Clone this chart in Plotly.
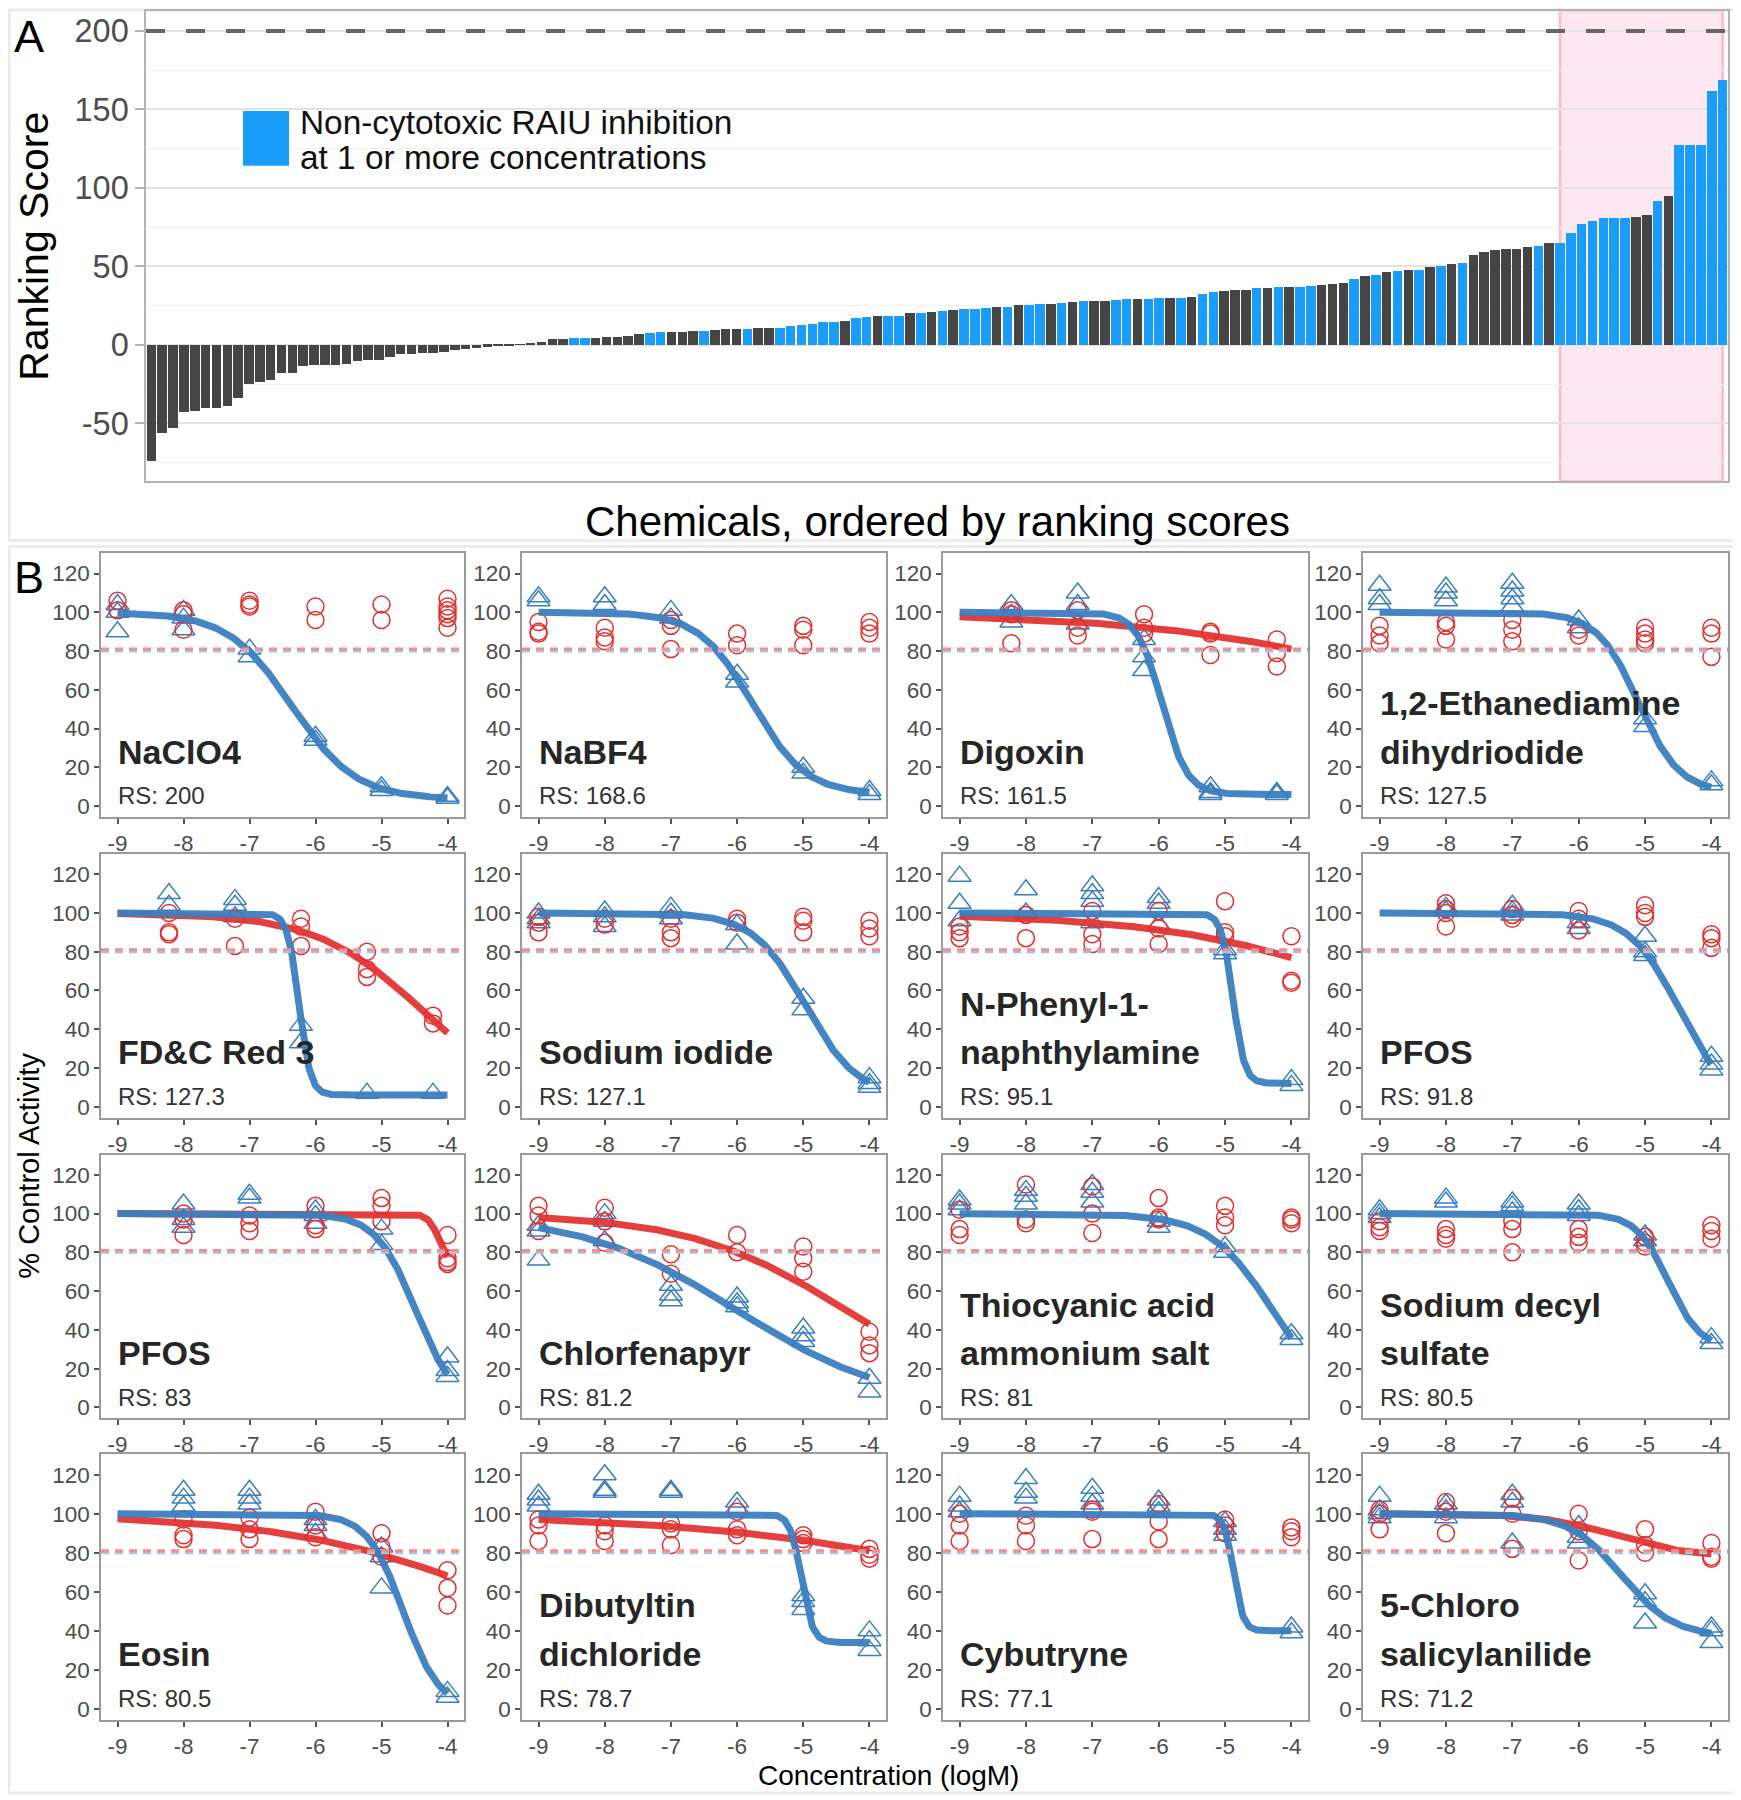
import numpy as np
import plotly.graph_objects as go

# page body adds an 8px margin: figure sized so that it fits exactly in the window
OFF = 8
W, H = 1741 - OFF, 1800 - OFF

# ---------------- Panel A data ----------------
chem_rank = list(range(1, 147))
bar_scores = [
    -74, -56, -53, -43, -42, -40.5, -40.5, -39, -34, -25,
    -24, -22.6, -18, -18, -13.4, -13, -13, -13, -12, -10.3,
    -10, -10, -7.5, -6, -6, -5, -5, -4.5, -3.2, -2.8,
    -2, -1.1, -0.6, -0.2, 0.3, 1, 1.5, 3.6, 3.6, 4.2,
    4.2, 4.2, 4.7, 5.1, 5.9, 7.0, 7.4, 7.9, 8.1, 8.1,
    9.1, 9.1, 9.6, 10.0, 10.0, 10.0, 10.4, 10.4, 11.0, 11.7,
    12.3, 13.2, 14.4, 14.4, 15.3, 16.8, 18.0, 18.5, 18.5, 18.5,
    20.2, 20.2, 20.6, 21.3, 22.4, 22.5, 22.5, 23.6, 24.0, 24.0,
    25.1, 25.1, 25.9, 26.3, 26.8, 27.2, 27.6, 27.6, 28.2, 28.7,
    29.3, 29.3, 29.3, 29.7, 29.9, 29.9, 30.6, 32.1, 33.8, 34.0,
    34.6, 34.6, 35.9, 36.3, 36.7, 36.7, 36.7, 37.4, 38.2, 38.8,
    39.3, 41.8, 44.1, 44.7, 46.2, 46.8, 47.9, 47.9, 49.8, 50.2,
    51.7, 51.9, 57.2, 59.1, 60.2, 60.8, 60.8, 62.1, 62.9, 64.6,
    64.6, 71.2, 77.1, 78.7, 80.5, 80.5, 81.0, 81.2, 83.0, 91.8,
    95.1, 127.1, 127.3, 127.5, 161.5, 168.6]
noncytotoxic_ranks = [40, 41, 47, 48, 52, 56, 59, 60, 61, 62, 63, 64, 66, 67, 69, 70,
                      72, 74, 76, 77, 78, 80, 82, 83, 85, 87, 90, 91, 93, 94, 96, 98,
                      99, 103, 105, 107, 108, 112, 114, 116, 118, 120, 122, 129, 131,
                      132, 133, 134, 135, 136, 137, 140, 142, 143, 144, 145, 146]
highlight_ranks = [131, 146]
reference_score = 200
score_ticks = [-50, 0, 50, 100, 150, 200]
score_minor = [-75, -25, 25, 75, 125, 175]

# ---------------- Panel B data ----------------
chem_names = ["NaClO4", "NaBF4", "Digoxin", "1,2-Ethanediamine\ndihydriodide",
              "FD&C Red 3", "Sodium iodide", "N-Phenyl-1-\nnaphthylamine", "PFOS",
              "PFOS", "Chlorfenapyr", "Thiocyanic acid\nammonium salt", "Sodium decyl\nsulfate",
              "Eosin", "Dibutyltin\ndichloride", "Cybutryne", "5-Chloro\nsalicylanilide"]
rs_scores = ["200", "168.6", "161.5", "127.5", "127.3", "127.1", "95.1", "91.8",
             "83", "81.2", "81", "80.5", "80.5", "78.7", "77.1", "71.2"]

conc_six = [-9, -8, -7, -6, -5, -4]
conc_five = [-8, -7, -6, -5, -4]
conc_shift = [-8.22, -7.22, -6.22, -5.22, -4.22]
concentrations = [conc_six, conc_six, conc_shift, conc_six,
                  conc_shift, conc_six, conc_six, conc_five,
                  conc_five, conc_six, conc_six, conc_six,
                  conc_five, conc_six, conc_six, conc_six]

raiu_points = [
    [[104, 100, 90], [101, 97, 91], [81, 77], [36, 34], [10, 8], [5, 4]],
    [[108, 106], [108, 104], [101, 97], [68, 64], [20, 17], [8, 6]],
    [[104, 99, 95], [110, 104, 94], [86, 77, 70], [10, 7, 6], [7, 6]],
    [[114, 107, 104], [113, 110, 106], [115, 111, 107, 103], [96, 92], [45, 41], [13, 11]],
    [[110, 104], [107, 104, 98], [42, 33], [7], [7]],
    [[100, 97, 95], [101, 98, 93], [103, 100, 97], [94, 84], [56, 50], [15, 12, 10]],
    [[119, 105, 96], [112, 100], [114, 110, 106, 95], [108, 105, 94], [81, 79], [14, 11]],
    [[103, 101], [104, 101, 99], [95, 92], [88, 80, 78], [26, 22, 19]],
    [[105, 97, 93], [110, 108], [102, 99, 95], [92, 84], [26, 19, 16]],
    [[94, 91, 76], [100, 96, 86], [63, 58, 55], [57, 54, 52], [41, 37, 34], [15, 8]],
    [[107, 105, 102], [112, 109, 105], [115, 111, 106], [96, 93], [83, 80], [38, 35]],
    [[102, 100, 98], [108, 106], [106, 104, 101], [105, 102, 99], [89, 86], [36, 33]],
    [[112, 108, 104], [112, 108, 105], [97, 94, 90], [83, 78, 62], [9, 6]],
    [[110, 107, 104], [120, 112, 111], [112, 111], [106, 103], [58, 55, 51], [40, 35, 30]],
    [[109, 104, 101], [118, 111, 108], [113, 109, 105], [107, 104, 101], [96, 92, 89], [42, 39]],
    [[109, 102, 100, 98], [105, 102, 98], [110, 106, 85], [94, 88, 85], [59, 55, 44], [42, 40, 34]],
]
viability_points = [
    [[106, 101], [101, 99, 91], [106, 104, 103], [103, 96], [104, 96], [107, 103, 101, 99, 97, 92]],
    [[95, 90, 89], [92, 87, 85], [96, 93, 81], [89, 83], [93, 91, 83], [95, 92, 89]],
    [[101, 99, 84], [101, 92, 88], [99, 92, 89], [90, 89, 78], [86, 79, 72]],
    [[93, 88, 84], [95, 93, 86], [96, 91, 85], [91, 88], [92, 89, 86, 84], [92, 89, 77]],
    [[100, 90, 89], [97, 83], [97, 93, 83], [80, 71, 67], [47, 43]],
    [[98, 95, 90], [97, 94], [97, 90, 87], [97, 95], [98, 96, 90], [96, 92, 88]],
    [[93, 90, 87], [99, 87], [101, 89, 84], [101, 92, 84], [106, 90, 88], [88, 65, 64]],
    [[105, 102, 100, 93], [102, 99, 97], [101, 97, 91], [104, 100, 98], [89, 87, 82]],
    [[100, 97, 89], [99, 95, 91], [104, 94, 92], [108, 104, 96], [89, 77, 75, 74]],
    [[104, 99, 91], [103, 96, 85], [79, 69], [89, 80], [83, 77, 70], [39, 32, 28]],
    [[102, 92, 89], [115, 97, 95], [114, 100, 90], [108, 98, 97], [104, 98, 94], [98, 97, 95]],
    [[96, 93, 91], [92, 89, 87], [96, 92, 80], [92, 88, 85], [88, 85, 83], [94, 91, 87]],
    [[97, 89, 87], [98, 92, 87], [101, 94, 88], [90, 83, 78], [71, 62, 53]],
    [[97, 94, 86], [94, 91, 86], [95, 92, 84], [101, 92, 89], [89, 87, 85], [82, 79, 77]],
    [[100, 94, 86], [99, 94, 86], [102, 101, 87], [105, 96, 87], [97, 94, 90], [93, 91, 88]],
    [[102, 100, 92], [106, 101, 90], [108, 100, 82], [100, 91, 76], [92, 84, 80], [85, 78, 77]],
]
# Hill fit parameters: (top, bottom, logAC50, slope)
raiu_fit = [
    (100, 3.5, -6.36, 0.9), (100, 6, -5.77, 1.08), (100, 6, -5.95, 2.3), (100, 7, -5.1, 1.4),
    (100, 6, -6.25, 5.0), (100, 5, -4.97, 1.1), (100, 12, -4.88, 5.0), (100, 0, -4.48, 1.15),
    (100, 0, -4.48, 1.44), (100, 0, -6.0, 0.37), (100, 0, -4.28, 0.91), (100, 30, -4.65, 1.8),
    (100, 0, -4.67, 1.59), (100, 34, -5.03, 5.0), (100, 40, -4.87, 6.0), (100, 37, -5.355, 1.12),
]
viability_fit = [
    None, None, (100, 0, -0.85, 0.2), None,
    (100, 0, -4.39, 0.54), None, (100, 0, -1.91, 0.25), None,
    (100, 72, -4.12, 5.0), (100, 0, -4.34, 0.362), None, None,
    (100, 0, -2.68, 0.249), (100, 0, -0.42, 0.176), None, (100, 78, -5.47, 0.80),
]
conc_ticks = [-9, -8, -7, -6, -5, -4]
activity_ticks = [0, 20, 40, 60, 80, 100, 120]
raiu_cutoff = 80
viability_cutoff = 81

# ---------------- styling ----------------
DARK = "#454545"
BLUEBAR = "#1a9cfb"
BLUE = "#3b7fc0"
RED = "#e3302e"
FONT = "Liberation Sans, Arial, sans-serif"


def hill(x, top, bottom, ac50, n):
    return bottom + (top - bottom) / (1.0 + 10.0 ** (n * (x - ac50)))


def px_x(p):
    return (p - OFF) / W


def px_y(p):
    return 1 - (p - OFF) / H


fig = go.Figure()
annotations = []
shapes = []

# ---- Panel A ----
bar_colors = [BLUEBAR if r in noncytotoxic_ranks else DARK for r in chem_rank]
fig.add_trace(go.Bar(x=chem_rank, y=bar_scores, width=0.88,
                     marker=dict(color=bar_colors, line=dict(width=0)),
                     xaxis="x", yaxis="y", showlegend=False, hoverinfo="x+y"))

layout = dict(width=W, height=H, margin=dict(l=0, r=0, t=0, b=0, pad=0),
              paper_bgcolor="white", plot_bgcolor="white", showlegend=False,
              font=dict(family=FONT, color="#333333"), bargap=0)

layout["xaxis"] = dict(domain=[px_x(146), px_x(1728)], range=[0.5, 146.5],
                       showticklabels=False, ticks="", showgrid=False, zeroline=False,
                       showline=True, mirror=True, linecolor="#b3b3b3", linewidth=1.5)
layout["yaxis"] = dict(domain=[px_y(482), px_y(11)], range=[-87.1, 212.7],
                       tickvals=score_ticks, ticktext=[str(v) for v in score_ticks],
                       ticks="outside", ticklen=9, tickcolor="#b3b3b3", tickwidth=1.5,
                       tickfont=dict(size=32.5, color="#4d4d4d", family=FONT),
                       showgrid=True, gridcolor="#e3e3e3", gridwidth=1.5,
                       minor=dict(tickvals=score_minor, showgrid=True, gridcolor="#f1f1f1",
                                  gridwidth=1.2, ticks=""),
                       zeroline=False, showline=True, mirror=True,
                       linecolor="#b3b3b3", linewidth=1.5)

shapes.append(dict(type="rect", xref="x", yref="y domain", x0=highlight_ranks[0],
                   x1=highlight_ranks[1], y0=0, y1=1, fillcolor="#fde7f1",
                   line=dict(color="#ffb8c6", width=2.5), layer="below"))
shapes.append(dict(type="line", xref="x domain", yref="y", x0=0, x1=1,
                   y0=reference_score, y1=reference_score,
                   line=dict(color="#666666", width=4, dash="19px,21px")))

# legend
shapes.append(dict(type="rect", xref="paper", yref="paper",
                   x0=px_x(243), x1=px_x(289), y0=px_y(166), y1=px_y(111),
                   fillcolor=BLUEBAR, line=dict(width=0)))
annotations.append(dict(xref="paper", yref="paper", x=px_x(298), y=px_y(123),
                        text="Non-cytotoxic RAIU inhibition", showarrow=False,
                        xanchor="left", yanchor="middle",
                        font=dict(size=33.4, color="#111111", family=FONT)))
annotations.append(dict(xref="paper", yref="paper", x=px_x(298), y=px_y(158),
                        text="at 1 or more concentrations", showarrow=False,
                        xanchor="left", yanchor="middle",
                        font=dict(size=33.4, color="#111111", family=FONT)))

annotations.append(dict(xref="paper", yref="paper", x=px_x(29), y=px_y(37), text="A",
                        showarrow=False, xanchor="center", yanchor="middle",
                        font=dict(size=45, color="#000000", family=FONT)))
annotations.append(dict(xref="paper", yref="paper", x=px_x(34), y=px_y(247),
                        text="Ranking Score", textangle=-90, showarrow=False,
                        xanchor="center", yanchor="middle",
                        font=dict(size=41, color="#000000", family=FONT)))
annotations.append(dict(xref="paper", yref="paper", x=px_x(937), y=px_y(522),
                        text="Chemicals, ordered by ranking scores", showarrow=False,
                        xanchor="center", yanchor="middle",
                        font=dict(size=42, color="#000000", family=FONT)))

# frames
shapes.append(dict(type="rect", xref="paper", yref="paper", x0=px_x(9), x1=px_x(1736),
                   y0=px_y(541), y1=px_y(10), line=dict(color="#ebebeb", width=3),
                   fillcolor="rgba(0,0,0,0)", layer="below"))
shapes.append(dict(type="rect", xref="paper", yref="paper", x0=px_x(9), x1=px_x(1736),
                   y0=px_y(1795), y1=px_y(547), line=dict(color="#ebebeb", width=3),
                   fillcolor="rgba(0,0,0,0)", layer="below"))

# ---- Panel B ----
col_px = [(101, 464), (522, 886), (943, 1308), (1363, 1728)]
row_px = [(554, 818), (855, 1119), (1156, 1420), (1456, 1722)]
curve_x = np.linspace(-9, -4, 400)

for i in range(16):
    r, c = divmod(i, 4)
    k = i + 2
    xa, ya = f"x{k}", f"y{k}"
    layout[f"xaxis{k}"] = dict(domain=[px_x(col_px[c][0]), px_x(col_px[c][1])],
                               range=[-9.25, -3.75], anchor=ya,
                               tickvals=conc_ticks, ticktext=[str(v) for v in conc_ticks],
                               ticks="outside", ticklen=5, tickwidth=1.5, tickcolor="#555555",
                               tickfont=dict(size=22.5, color="#4d4d4d", family=FONT),
                               showgrid=False, zeroline=False, showline=True, mirror=True,
                               linecolor="#9a9a9a", linewidth=1.5)
    layout[f"yaxis{k}"] = dict(domain=[px_y(row_px[r][1]), px_y(row_px[r][0])],
                               range=[-5.7, 130.4], anchor=xa,
                               tickvals=activity_ticks,
                               ticktext=[str(v) for v in activity_ticks],
                               ticks="outside", ticklen=5, tickwidth=1.5, tickcolor="#555555",
                               tickfont=dict(size=22.5, color="#4d4d4d", family=FONT),
                               showgrid=False, zeroline=False, showline=True, mirror=True,
                               linecolor="#9a9a9a", linewidth=1.5)

    shapes.append(dict(type="line", xref=f"{xa} domain", yref=ya, x0=0, x1=1,
                       y0=raiu_cutoff, y1=raiu_cutoff,
                       line=dict(color="#a3c6e6", width=3, dash="8px,6px")))
    shapes.append(dict(type="line", xref=f"{xa} domain", yref=ya, x0=0, x1=1,
                       y0=viability_cutoff, y1=viability_cutoff,
                       line=dict(color="#f29090", width=3, dash="8px,6px")))

    cx, cy = [], []
    for xc, vals in zip(concentrations[i], viability_points[i]):
        cx += [xc] * len(vals)
        cy += vals
    tx, ty = [], []
    for xc, vals in zip(concentrations[i], raiu_points[i]):
        tx += [xc] * len(vals)
        ty += vals

    fig.add_trace(go.Scatter(x=tx, y=ty, mode="markers", xaxis=xa, yaxis=ya,
                             marker=dict(symbol="triangle-up-open", size=20, color=BLUE,
                                         line=dict(width=1.5, color=BLUE)),
                             showlegend=False))
    fig.add_trace(go.Scatter(x=cx, y=cy, mode="markers", xaxis=xa, yaxis=ya,
                             marker=dict(symbol="circle-open", size=17, color=RED,
                                         line=dict(width=1.5, color=RED)),
                             showlegend=False))
    if viability_fit[i] is not None:
        fig.add_trace(go.Scatter(x=curve_x, y=hill(curve_x, *viability_fit[i]),
                                 mode="lines", xaxis=xa, yaxis=ya,
                                 line=dict(color=RED, width=7), opacity=0.92,
                                 showlegend=False))
    fig.add_trace(go.Scatter(x=curve_x, y=hill(curve_x, *raiu_fit[i]),
                             mode="lines", xaxis=xa, yaxis=ya,
                             line=dict(color=BLUE, width=7), opacity=0.95,
                             showlegend=False))

    lines = chem_names[i].split("\n")
    ypos = [28, 53][:len(lines)][::-1]
    for txt, yv in zip(lines, ypos):
        annotations.append(dict(xref=xa, yref=ya, x=-9.03, y=yv, text=f"<b>{txt}</b>",
                                showarrow=False, xanchor="left", yanchor="middle",
                                font=dict(size=34, color="#262626", family=FONT)))
    annotations.append(dict(xref=xa, yref=ya, x=-9.03, y=5.3, text=f"RS: {rs_scores[i]}",
                            showarrow=False, xanchor="left", yanchor="middle",
                            font=dict(size=24, color="#333333", family=FONT)))

annotations.append(dict(xref="paper", yref="paper", x=px_x(29), y=px_y(578), text="B",
                        showarrow=False, xanchor="center", yanchor="middle",
                        font=dict(size=45, color="#000000", family=FONT)))
annotations.append(dict(xref="paper", yref="paper", x=px_x(29), y=px_y(1167),
                        text="% Control Activity", textangle=-90, showarrow=False,
                        xanchor="center", yanchor="middle",
                        font=dict(size=29, color="#000000", family=FONT)))
annotations.append(dict(xref="paper", yref="paper", x=px_x(888), y=px_y(1777),
                        text="Concentration (logM)", showarrow=False,
                        xanchor="center", yanchor="middle",
                        font=dict(size=28, color="#000000", family=FONT)))

layout["shapes"] = shapes
layout["annotations"] = annotations
fig.update_layout(**layout)
fig.write_html("out.html")
